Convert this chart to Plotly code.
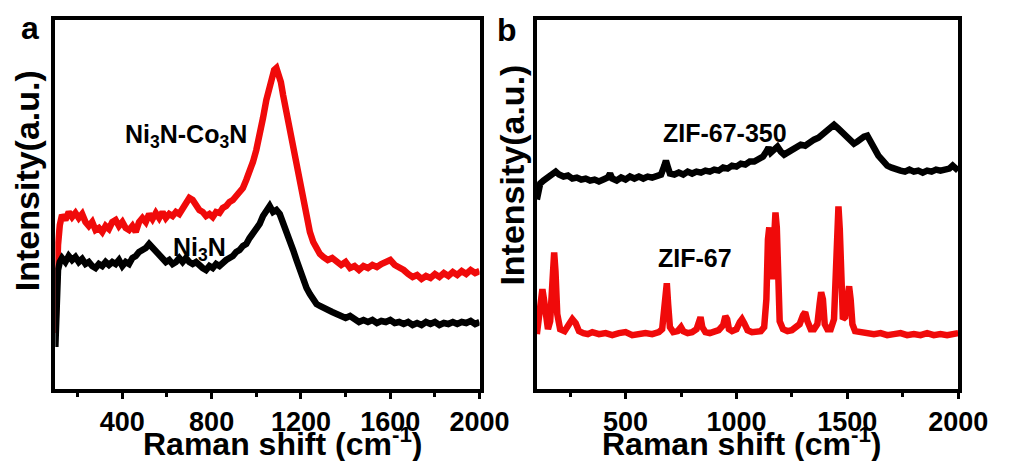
import plotly.graph_objects as go

# ---- Panel a: Ni3N and Ni3N-Co3N Raman spectra ----
a_shift = [100, 105, 112, 120, 130, 145, 160, 175, 190, 205, 220, 235, 250, 265, 280, 295,
           310, 325, 340, 355, 370, 385, 400, 415, 430, 445, 460, 475, 490, 505, 520, 535,
           550, 565, 580, 595, 610, 625, 640, 655, 670, 685, 700, 715, 730, 745, 760, 775,
           790, 805, 820, 835, 850, 865, 880, 895, 910, 925, 940, 955, 970, 985, 1000, 1015,
           1030, 1045, 1060, 1070, 1080, 1090, 1100, 1110, 1120, 1135, 1150, 1165, 1180,
           1195, 1210, 1225, 1240, 1255, 1270, 1285, 1300, 1320, 1340, 1360, 1380, 1400,
           1420, 1440, 1460, 1480, 1500, 1520, 1540, 1560, 1580, 1600, 1620, 1640, 1660,
           1680, 1700, 1720, 1740, 1760, 1780, 1800, 1820, 1840, 1860, 1880, 1900, 1920,
           1940, 1960, 1980, 2000]

ni3n_co3n = [56, 99, 144, 164, 174, 169, 177, 172, 176, 171, 175, 167, 163, 167, 159, 161,
             157, 163, 160, 167, 169, 163, 167, 161, 159, 163, 157, 167, 171, 167, 175, 170,
             176, 171, 177, 171, 175, 173, 177, 175, 181, 186, 191, 189, 183, 179, 177, 173,
             175, 172, 177, 176, 181, 183, 187, 189, 193, 197, 201, 209, 217, 227, 239, 253,
             271, 289, 303, 313, 319, 321, 315, 307, 294, 277, 259, 239, 219,
             201, 184, 169, 157, 147, 139, 135, 132, 129, 131, 127, 124, 127,
             121, 123, 119, 123, 121, 124, 122, 125, 127, 129, 124, 122, 119,
             115, 112, 114, 110, 113, 111, 115, 112, 116, 113, 117, 114, 118,
             115, 119, 116, 118]

a_shift_b = [100, 105, 112, 120, 130, 145, 160, 175, 190, 205, 220, 235, 250, 265, 280, 295,
             310, 325, 340, 355, 370, 385, 400, 415, 430, 445, 460, 475, 490, 505, 520, 535,
             550, 565, 580, 595, 610, 625, 640, 655, 670, 685, 700, 715, 730, 745, 760, 775,
             790, 805, 820, 835, 850, 865, 880, 895, 910, 925, 940, 955, 970, 985, 1000, 1015,
             1030, 1045, 1060, 1075, 1090, 1105, 1120, 1135, 1150, 1165, 1180, 1195, 1210,
             1225, 1240, 1255, 1270, 1285, 1300, 1320, 1340, 1360, 1380, 1400, 1420, 1440,
             1460, 1480, 1500, 1520, 1540, 1560, 1580, 1600, 1620, 1640, 1660, 1680, 1700,
             1720, 1740, 1760, 1780, 1800, 1820, 1840, 1860, 1880, 1900, 1920, 1940, 1960,
             1980, 2000]

ni3n = [42, 89, 119, 127, 131, 127, 133, 129, 132, 127, 130, 125, 127, 123, 121, 125,
        123, 127, 124, 127, 125, 129, 123, 127, 125, 131, 133, 137, 139, 141, 145, 141,
        137, 133, 131, 127, 129, 125, 127, 131, 127, 131, 127, 125, 127, 123, 121, 119,
        123, 121, 125, 123, 127, 129, 131, 133, 137, 139, 143, 145, 151, 155, 159, 165,
        173, 179, 183, 177, 179, 175, 167, 159, 149, 139, 129, 119, 109,
        101, 95, 89, 85, 83, 81, 79, 77, 75, 73, 71, 73, 69,
        67, 69, 67, 69, 66, 68, 67, 69, 66, 67, 65, 67, 64,
        66, 64, 67, 65, 67, 64, 66, 65, 67, 65, 67, 66, 68,
        65, 67]

# ---- Panel b: ZIF-67 and ZIF-67-350 Raman spectra ----
b_shift_350 = [100, 105, 115, 130, 150, 170, 185, 200, 220, 240, 260, 280, 300, 320, 340,
               360, 380, 400, 420, 430, 440, 460, 480, 500, 520, 540, 560, 580, 600, 620,
               640, 660, 675, 682, 690, 700, 720, 740, 760, 780, 800, 820, 840, 860, 880,
               900, 920, 940, 960, 980, 1000, 1020, 1040, 1060, 1080, 1100, 1120, 1135,
               1145, 1155, 1170, 1185, 1200, 1215, 1230, 1250, 1270, 1290, 1310, 1330,
               1350, 1370, 1390, 1410, 1425, 1440, 1455, 1470, 1485, 1500, 1515, 1530,
               1545, 1560, 1575, 1590, 1605, 1620, 1640, 1660, 1680, 1700, 1720, 1740,
               1760, 1780, 1800, 1820, 1840, 1860, 1880, 1900, 1920, 1940, 1960, 1975,
               1990, 2000]

zif67_350 = [190, 200, 206, 209, 212, 215, 218, 215, 213, 214, 211, 212, 210, 211, 209,
             210, 208, 210, 212, 216, 211, 209, 212, 210, 213, 211, 213, 211, 213, 212,
             214, 215, 224, 229, 223, 216, 215, 217, 215, 218, 216, 218, 217, 219, 218,
             220, 219, 222, 221, 224, 223, 226, 225, 228, 228, 231, 233, 238,
             242, 237, 240, 243, 238, 235, 237, 240, 243, 245, 244, 248,
             250, 252, 256, 260, 263, 265, 262, 259, 255, 252, 248, 246,
             248, 251, 253, 254, 249, 242, 234, 228, 224, 222, 220, 219,
             218, 220, 218, 219, 217, 219, 218, 220, 219, 220, 221, 224,
             220, 219]

b_shift_67 = [100, 110, 118, 125, 132, 140, 150, 160, 167, 173, 178, 184, 192, 205, 225,
              245, 260, 275, 290, 310, 330, 350, 380, 410, 440, 470, 500, 530, 560, 590,
              620, 650, 665, 673, 680, 686, 692, 700, 715, 735, 750, 760, 780, 800, 820,
              830, 838, 846, 860, 880, 900, 920, 940, 950, 958, 966, 980, 1000, 1015,
              1025, 1035, 1050, 1070, 1090, 1110, 1125, 1135, 1142, 1148, 1154, 1160,
              1165, 1170, 1176, 1182, 1188, 1195, 1210, 1230, 1250, 1270, 1285, 1300,
              1310, 1320, 1335, 1350, 1365, 1375, 1382, 1390, 1398, 1410, 1425, 1440,
              1447, 1453, 1460, 1466, 1472, 1480, 1490, 1500, 1508, 1515, 1523, 1535,
              1560, 1590, 1620, 1650, 1680, 1710, 1740, 1770, 1800, 1830, 1860, 1890,
              1920, 1950, 1980, 2000]

zif67 = [55, 72, 95, 100, 90, 68, 60, 68, 100, 133, 137, 118, 75, 60, 58,
         65, 70, 66, 58, 56, 55, 57, 55, 56, 54, 56, 57, 54, 55, 56,
         55, 57, 60, 85, 105, 106, 85, 62, 57, 58, 62, 58, 56, 57, 60,
         70, 72, 62, 57, 56, 57, 59, 64, 73, 70, 60, 58, 60, 67,
         70, 66, 59, 57, 57, 58, 62, 90, 150, 162, 140, 110,
         130, 168, 177, 162, 110, 68, 60, 58, 59, 62, 65, 74,
         77, 68, 60, 60, 65, 85, 97, 90, 65, 60, 60, 70,
         120, 178, 183, 160, 100, 70, 72, 95, 103, 90, 65, 58,
         57, 56, 55, 56, 54, 55, 56, 54, 55, 54, 56, 54,
         55, 54, 55, 56]

a_ticks = [400, 800, 1200, 1600, 2000]
a_minor = [200, 600, 1000, 1400, 1800]
b_ticks = [500, 1000, 1500, 2000]
b_minor = [250, 750, 1250, 1750]

RED = "#f00a0a"
BLACK = "#000000"
FONT = "Liberation Sans"

fig = go.Figure()
line_w = 6.5

fig.add_trace(go.Scatter(x=a_shift, y=ni3n_co3n, mode="lines",
                         line=dict(color=RED, width=line_w), xaxis="x", yaxis="y"))
fig.add_trace(go.Scatter(x=a_shift_b, y=ni3n, mode="lines",
                         line=dict(color=BLACK, width=line_w), xaxis="x", yaxis="y"))
fig.add_trace(go.Scatter(x=b_shift_350, y=zif67_350, mode="lines",
                         line=dict(color=BLACK, width=line_w), xaxis="x2", yaxis="y2"))
fig.add_trace(go.Scatter(x=b_shift_67, y=zif67, mode="lines",
                         line=dict(color=RED, width=line_w), xaxis="x2", yaxis="y2"))

y_dom = [1 - 389 / 461, 1 - 20 / 461]
tickfont = dict(family=FONT, size=27, color="black")

common_x = dict(range=[100, 2000], showline=True, linewidth=4, linecolor="black",
                mirror=True, ticks="outside", ticklen=6, tickwidth=3, tickcolor="black",
                showgrid=False, zeroline=False, tickfont=tickfont, tickmode="array")
common_y = dict(showline=True, linewidth=4, linecolor="black", mirror=True,
                showticklabels=False, ticks="", showgrid=False, zeroline=False)


def minor(vals):
    return dict(ticks="outside", ticklen=4, tickwidth=3, tickcolor="black", tickvals=vals)


fig.update_layout(
    width=1028, height=461,
    margin=dict(l=0, r=0, t=0, b=0),
    paper_bgcolor="white", plot_bgcolor="white",
    showlegend=False,
    xaxis=dict(domain=[57 / 1028, 494 / 1028], tickvals=a_ticks,
               ticktext=[f"<b>{v}</b>" for v in a_ticks], minor=minor(a_minor),
               anchor="y", **common_x),
    yaxis=dict(domain=y_dom, range=[0, 369], anchor="x", **common_y),
    xaxis2=dict(domain=[553 / 1028, 987 / 1028], tickvals=b_ticks,
                ticktext=[f"<b>{v}</b>" for v in b_ticks], minor=minor(b_minor),
                anchor="y2", **common_x),
    yaxis2=dict(domain=y_dom, range=[0, 370], anchor="x2", **common_y),
)


def label(text, x, y, size, angle=0):
    fig.add_annotation(text=f"<b>{text}</b>", x=x, y=y, xref="paper", yref="paper",
                       showarrow=False, textangle=angle, xanchor="center",
                       yanchor="middle", font=dict(family=FONT, size=size, color="black"))


# panel letters
label("a", 31 / 1028, 1 - 28 / 461, 32)
label("b", 522 / 1028, 1 - 30 / 461, 32)

# axis titles
label("Raman shift (cm<sup>-1</sup>)", 291 / 1028, 1 - 442 / 461, 32)
label("Raman shift (cm<sup>-1</sup>)", 764 / 1028, 1 - 442 / 461, 32)
label("Intensity(a.u.)", 28 / 1028, 1 - 181 / 461, 34, angle=-90)
label("Intensity(a.u.)", 527 / 1028, 1 - 175 / 461, 34, angle=-90)

# series labels
label("Ni<sub>3</sub>N-Co<sub>3</sub>N", 192 / 1028, 1 - 136 / 461, 25)
label("Ni<sub>3</sub>N", 206 / 1028, 1 - 249 / 461, 25)
label("ZIF-67-350", 747 / 1028, 1 - 133 / 461, 25)
label("ZIF-67", 716 / 1028, 1 - 258 / 461, 25)

fig.write_html("out.html")
